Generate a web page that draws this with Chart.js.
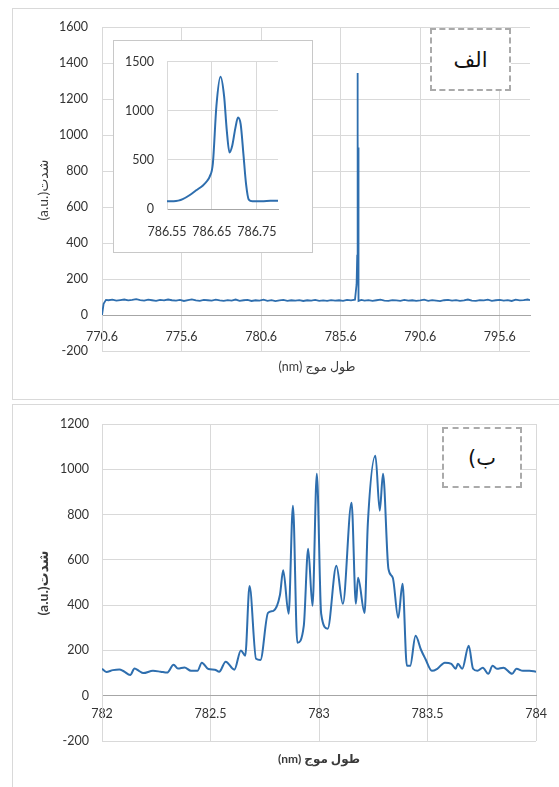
<!DOCTYPE html>
<html>
<head>
<meta charset="utf-8">
<script src="https://cdn.jsdelivr.net/npm/chart.js@4.4.1/dist/chart.umd.min.js"></script>
<style>
  html, body { margin: 0; padding: 0; background: #fff; overflow: hidden; }
  #page { position: relative; width: 559px; height: 787px; overflow: hidden; font-family: Lato, 'DejaVu Sans', sans-serif; color: #3a3a3a; }
  .panel { position: absolute; border: 1px solid #d9d9d9; }
  canvas { position: absolute; }
  .ytitle { position: absolute; font-size: 14px; white-space: nowrap; transform: translate(-50%, -50%) rotate(-90deg); }
  .xtitle { position: absolute; font-size: 12.5px; white-space: nowrap; transform: translate(-50%, -50%); }
  .tag { position: absolute; background: #fff; border: 2px dashed #aaaaaa; font-size: 21px; color: #111;
         display: flex; align-items: center; justify-content: center; font-family: 'DejaVu Sans', sans-serif; }
  #insetBox { position: absolute; left: 113px; top: 40px; width: 198px; height: 211px; border: 1px solid #c8c8c8; background: #fff; }
</style>
</head>
<body>
<div id="page">
  <div class="panel" style="left:12px; top:8px; width:600px; height:390px;"></div>
  <div class="panel" style="left:12px; top:404px; width:600px; height:400px;"></div>

  <canvas id="topChart" width="559" height="400" style="left:0; top:0; width:559px; height:400px;"></canvas>
  <div id="insetBox"><canvas id="insetChart" width="198" height="211" style="left:0; top:0; width:198px; height:211px;"></canvas></div>
  <canvas id="bottomChart" width="559" height="387" style="left:0; top:400px; width:559px; height:387px;"></canvas>

  <div class="ytitle" style="left:42px; top:190px;">(a.u.)شدت</div>
  <div class="xtitle" dir="rtl" style="left:317px; top:366px;">طول موج (nm)</div>
  <div class="ytitle" style="left:42px; top:583px; font-weight:bold;">(a.u.)شدت</div>
  <div class="xtitle" dir="rtl" style="left:319px; top:758px; font-weight:bold; font-size:12px;">طول موج (nm)</div>

  <div class="tag" dir="rtl" style="left:430px; top:28px; width:77px; height:59px;">الف</div>
  <div class="tag" dir="rtl" style="left:442px; top:427px; width:76px; height:57px;">ب)</div>
</div>

<script>
// panel (a): full spectrum
const topWave = [
  770.60, 770.70, 770.85, 771.00, 771.25, 771.50, 771.75, 772.00, 772.25, 772.50,
  772.75, 773.00, 773.25, 773.50, 773.75, 774.00, 774.25, 774.50, 774.75, 775.00,
  775.25, 775.50, 775.75, 776.00, 776.25, 776.50, 776.75, 777.00, 777.25, 777.50,
  777.75, 778.00, 778.25, 778.50, 778.75, 779.00, 779.25, 779.50, 779.75, 780.00,
  780.25, 780.50, 780.75, 781.00, 781.25, 781.50, 781.75, 782.00, 782.25, 782.50,
  782.75, 783.00, 783.25, 783.50, 783.75, 784.00, 784.25, 784.50, 784.75, 785.00,
  785.25, 785.50, 785.75, 786.00, 786.25, 786.50, 786.60, 786.64, 786.655, 786.668,
  786.68, 786.69, 786.70, 786.71, 786.72, 786.735, 786.75, 786.90, 787.10, 787.35,
  787.60, 787.85, 788.10, 788.35, 788.60, 788.85, 789.10, 789.35, 789.60, 789.85,
  790.10, 790.35, 790.60, 790.85, 791.10, 791.35, 791.60, 791.85, 792.10, 792.35,
  792.60, 792.85, 793.10, 793.35, 793.60, 793.85, 794.10, 794.35, 794.60, 794.85,
  795.10, 795.35, 795.60, 795.85, 796.10, 796.35, 796.60, 796.85, 797.10, 797.35,
  797.50
];
const topIntensity = [
  0, 62, 84, 82, 85, 80, 83, 86, 81, 84,
  88, 83, 80, 85, 82, 79, 84, 81, 86, 82,
  80, 84, 78, 83, 87, 81, 79, 84, 82, 80,
  85, 81, 78, 83, 80, 86, 79, 82, 84, 78,
  82, 80, 85, 79, 83, 77, 81, 84, 79, 82,
  80, 83, 78, 82, 80, 84, 79, 81, 78, 83,
  80, 82, 79, 84, 81, 85, 170, 330, 700, 1345,
  1000, 570, 720, 930, 700, 150, 78, 84, 80, 83,
  79, 82, 85, 80, 78, 83, 81, 79, 84, 80,
  82, 78, 81, 85, 79, 83, 80, 77, 82, 84,
  80, 83, 79, 81, 86, 80, 78, 83, 81, 85,
  79, 82, 84, 80, 83, 78, 85, 81, 83, 86,
  82
];
const topXTicks = [770.6, 775.6, 780.6, 785.6, 790.6, 795.6];

// inset: zoom on the line
const inWave = [
  786.55, 786.565, 786.575, 786.585, 786.60, 786.615, 786.63, 786.64, 786.645, 786.652,
  786.66, 786.669, 786.677, 786.683, 786.689, 786.695, 786.702, 786.708, 786.714, 786.72,
  786.726, 786.732, 786.74, 786.76, 786.78, 786.797
];
const inIntensity = [
  80, 80, 85, 100, 140, 190, 240, 290, 330, 460,
  1050, 1345, 1150, 800, 575, 640, 820, 930, 860, 560,
  250, 95, 78, 78, 83, 85
];
const inXTicks = [786.55, 786.65, 786.75];

// panel (b)
const botWave = [
  782.00, 782.02, 782.05, 782.08, 782.10, 782.13, 782.15, 782.17, 782.19, 782.235,
  782.27, 782.30, 782.33, 782.35, 782.38, 782.41, 782.44, 782.46, 782.49, 782.52,
  782.54, 782.57, 782.61, 782.64, 782.66, 782.68, 782.71, 782.73, 782.765, 782.79,
  782.82, 782.835, 782.86, 782.88, 782.90, 782.93, 782.95, 782.97, 782.99, 783.01,
  783.04, 783.08, 783.11, 783.15, 783.17, 783.18, 783.21, 783.225, 783.26, 783.28,
  783.295, 783.32, 783.34, 783.365, 783.385, 783.405, 783.42, 783.445, 783.47, 783.49,
  783.52, 783.545, 783.58, 783.61, 783.63, 783.64, 783.66, 783.69, 783.71, 783.73,
  783.755, 783.78, 783.80, 783.82, 783.85, 783.89, 783.91, 783.94, 783.97, 784.00
];
const botIntensity = [
  119, 105, 113, 116, 108, 92, 120, 110, 100, 110,
  106, 102, 137, 120, 125, 110, 110, 146, 118, 115,
  106, 150, 115, 200, 177, 484, 163, 158, 366, 375,
  445, 554, 362, 839, 234, 309, 649, 397, 980, 362,
  296, 574, 406, 852, 406, 521, 366, 759, 1060, 817,
  980, 560, 521, 344, 494, 132, 132, 265, 203, 163,
  110, 119, 146, 141, 119, 141, 119, 221, 119, 110,
  124, 97, 132, 119, 124, 97, 119, 110, 110, 106
];

const lineColor = '#2E6EAE';
const gridColor = '#d9d9d9';
const axisColor = '#a6a6a6';
const font = { family: "Lato, 'DejaVu Sans', sans-serif", size: 12.5 };
Chart.defaults.color = '#333333';

function pts(xs, ys) {
  return xs.map((x, i) => ({ x: x, y: ys[i] }));
}

const noFrills = {
  responsive: false,
  animation: false,
  events: [],
  plugins: { legend: { display: false }, tooltip: { enabled: false } }
};

function yGrid(ctx) {
  return ctx.tick && ctx.tick.value === 0 ? axisColor : gridColor;
}
const plain = v => String(v);

// panel (a)
new Chart(document.getElementById('topChart'), {
  type: 'line',
  data: {
    datasets: [{
      data: pts(topWave, topIntensity),
      borderColor: lineColor,
      borderWidth: 1.8,
      pointRadius: 0,
      tension: 0
    }]
  },
  options: Object.assign({}, noFrills, {
    layout: { padding: { left: 42, right: 29, top: 27, bottom: 49 } },
    scales: {
      x: {
        type: 'linear', min: 770.6, max: 797.5,
        position: { y: 0 },
        afterBuildTicks: ax => { ax.ticks = topXTicks.map(v => ({ value: v })); },
        grid: { color: gridColor, drawTicks: false },
        border: { color: axisColor },
        ticks: { font: font, padding: 14, maxRotation: 0, callback: v => v.toFixed(1) }
      },
      y: {
        min: -200, max: 1600,
        afterFit: s => { s.width = 60; },
        grid: { color: yGrid, drawTicks: false },
        border: { color: gridColor },
        ticks: { font: font, padding: 14, stepSize: 200, callback: plain }
      }
    }
  })
});

// inset
new Chart(document.getElementById('insetChart'), {
  type: 'line',
  data: {
    datasets: [{
      data: pts(inWave, inIntensity),
      borderColor: lineColor,
      borderWidth: 2,
      pointRadius: 0,
      cubicInterpolationMode: 'monotone'
    }]
  },
  options: Object.assign({}, noFrills, {
    layout: { padding: { left: 3, right: 34, top: 19, bottom: 13 } },
    scales: {
      x: {
        type: 'linear', min: 786.55, max: 786.797,
        afterBuildTicks: ax => { ax.ticks = inXTicks.map(v => ({ value: v })); },
        afterFit: s => { s.height = 30; },
        grid: { color: gridColor, drawTicks: false },
        border: { color: axisColor },
        ticks: { font: font, padding: 15, maxRotation: 0, callback: v => v.toFixed(2) }
      },
      y: {
        min: 0, max: 1500,
        afterFit: s => { s.width = 50; },
        grid: { color: yGrid, drawTicks: false },
        border: { color: gridColor },
        ticks: { font: font, padding: 13, stepSize: 500, callback: plain }
      }
    }
  })
});

// panel (b)
new Chart(document.getElementById('bottomChart'), {
  type: 'line',
  data: {
    datasets: [{
      data: pts(botWave, botIntensity),
      borderColor: lineColor,
      borderWidth: 2,
      pointRadius: 0,
      cubicInterpolationMode: 'monotone'
    }]
  },
  options: Object.assign({}, noFrills, {
    layout: { padding: { left: 42, right: 23, top: 24, bottom: 46 } },
    scales: {
      x: {
        type: 'linear', min: 782, max: 784,
        position: { y: 0 },
        grid: { color: gridColor, drawTicks: false },
        border: { color: axisColor },
        ticks: { font: font, padding: 11, stepSize: 0.5, maxRotation: 0, callback: plain }
      },
      y: {
        min: -200, max: 1200,
        afterFit: s => { s.width = 60; },
        grid: { color: yGrid, drawTicks: false },
        border: { color: gridColor },
        ticks: { font: font, padding: 13, stepSize: 200, callback: plain }
      }
    }
  })
});
</script>
</body>
</html>
